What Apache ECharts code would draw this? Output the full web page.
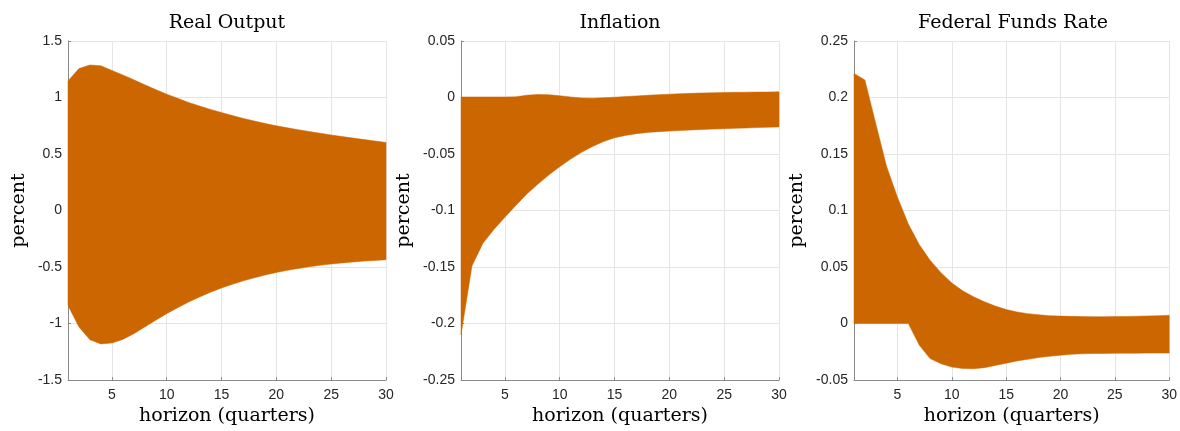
<!DOCTYPE html>
<html>
<head>
<meta charset="utf-8">
<script src="https://cdn.jsdelivr.net/npm/echarts@6/dist/echarts.min.js"></script>
<style>
  html, body { margin: 0; padding: 0; background: #fff; }
  #chart { width: 1180px; height: 431px; }
</style>
</head>
<body>
<div id="chart"></div>
<script>
// horizon in quarters
const horizon = [1,2,3,4,5,6,7,8,9,10,11,12,13,14,15,16,17,18,19,20,21,22,23,24,25,26,27,28,29,30];

// Real Output band
const outputUpper = [1.146,1.256,1.288,1.281,1.24,1.2,1.157,1.113,1.07,1.03,0.993,0.957,0.925,0.895,0.867,0.84,0.815,0.792,0.77,0.75,0.732,0.715,0.699,0.684,0.669,0.655,0.641,0.628,0.615,0.603];
const outputLower = [-0.839,-1.03,-1.143,-1.18,-1.172,-1.14,-1.09,-1.03,-0.97,-0.912,-0.86,-0.81,-0.765,-0.722,-0.685,-0.652,-0.622,-0.595,-0.57,-0.548,-0.529,-0.513,-0.498,-0.485,-0.473,-0.463,-0.455,-0.447,-0.441,-0.435];

// Inflation band
const inflUpper = [0.0005,0.0005,0.0005,0.0005,0.0005,0.0006,0.0021,0.0027,0.0025,0.0016,0.0005,-0.0004,-0.0006,-0.0002,0.0003,0.0008,0.0014,0.0019,0.0025,0.003,0.0034,0.0037,0.004,0.0042,0.0044,0.0046,0.0047,0.0048,0.0049,0.005];
const inflLower = [-0.21,-0.149,-0.129,-0.1167,-0.106,-0.0955,-0.0854,-0.0767,-0.0686,-0.0612,-0.0545,-0.0485,-0.0433,-0.039,-0.0357,-0.0335,-0.032,-0.0309,-0.0302,-0.0297,-0.0292,-0.0287,-0.0283,-0.0279,-0.0276,-0.0273,-0.027,-0.0266,-0.0263,-0.026];

// Federal Funds Rate band
const ffrUpper = [0.2213,0.2155,0.177,0.139,0.1117,0.088,0.07,0.056,0.045,0.036,0.029,0.0237,0.0193,0.0155,0.0125,0.0103,0.0088,0.0078,0.007,0.0066,0.0064,0.0062,0.0061,0.0061,0.0062,0.0063,0.0065,0.0067,0.007,0.0073];
const ffrLower = [0,0,0,0,0,0,-0.019,-0.031,-0.0355,-0.0385,-0.0398,-0.0399,-0.039,-0.037,-0.035,-0.033,-0.0316,-0.03,-0.029,-0.028,-0.0272,-0.0267,-0.0265,-0.0264,-0.0263,-0.0262,-0.0262,-0.0261,-0.0261,-0.0261];

const titles = ['Real Output', 'Inflation', 'Federal Funds Rate'];
const yRanges = [[-1.5, 1.5, 0.5], [-0.25, 0.05, 0.05], [-0.05, 0.25, 0.05]];
const bands = [[outputLower, outputUpper], [inflLower, inflUpper], [ffrLower, ffrUpper]];

const FILL = '#cc6600';
const TICK_FONT = '"Liberation Sans", Arial, sans-serif';
const SERIF = '"DejaVu Serif", serif';
const lefts = [68, 461, 854];
const plotW = 318;
const nameGaps = [39, 47, 47];

const grids = lefts.map((l) => ({ left: l, top: 41, width: plotW, height: 345 }));

const xAxes = lefts.map((l, i) => ({
  type: 'value',
  gridIndex: i,
  min: 1,
  max: 30,
  name: 'horizon (quarters)',
  nameLocation: 'middle',
  nameGap: 26,
  nameTextStyle: { fontFamily: SERIF, fontSize: 19, color: '#000' },
  axisLine: { show: true, onZero: false, lineStyle: { color: '#8a8a8a', width: 1 } },
  axisTick: { show: true, inside: true, length: 3, lineStyle: { color: '#8a8a8a' } },
  axisLabel: { showMinLabel: false, fontFamily: TICK_FONT, fontSize: 14, color: '#262626', margin: 8 },
  splitLine: { show: true, lineStyle: { color: '#e5e5e5', width: 1 } }
}));

const yAxes = yRanges.map((r, i) => ({
  type: 'value',
  gridIndex: i,
  min: r[0],
  max: r[1],
  interval: r[2],
  name: 'percent',
  nameLocation: 'middle',
  nameGap: nameGaps[i],
  nameTextStyle: { fontFamily: SERIF, fontSize: 19, color: '#000' },
  axisLine: { show: true, onZero: false, lineStyle: { color: '#8a8a8a', width: 1 } },
  axisTick: { show: true, inside: true, length: 3, lineStyle: { color: '#8a8a8a' } },
  axisLabel: {
    fontFamily: TICK_FONT, fontSize: 14, color: '#262626', margin: 6,
    formatter: (v) => String(+v.toFixed(4))
  },
  splitLine: { show: true, lineStyle: { color: '#e5e5e5', width: 1 } }
}));

// one polygon per panel: upper edge left->right, lower edge right->left
function bandRenderer(lower, upper) {
  return function (params, api) {
    if (params.dataIndexInside !== 0) return null;
    const pts = [];
    for (let k = 0; k < horizon.length; k++) pts.push(api.coord([horizon[k], upper[k]]));
    for (let k = horizon.length - 1; k >= 0; k--) pts.push(api.coord([horizon[k], lower[k]]));
    return {
      type: 'polygon',
      shape: { points: pts },
      style: { fill: FILL, stroke: FILL, lineWidth: 0.5 }
    };
  };
}

const series = bands.map((b, i) => ({
  type: 'custom',
  xAxisIndex: i,
  yAxisIndex: i,
  silent: true,
  renderItem: bandRenderer(b[0], b[1]),
  encode: { x: 0, y: [1, 2] },
  data: horizon.map((h, k) => [h, b[0][k], b[1][k]])
}));

const graphic = titles.map((t, i) => ({
  type: 'text',
  x: lefts[i] + plotW / 2,
  y: 23,
  style: {
    text: t,
    font: '19px ' + SERIF,
    fill: '#000',
    align: 'center',
    verticalAlign: 'middle',
    textAlign: 'center',
    textVerticalAlign: 'middle'
  }
}));

const chart = echarts.init(document.getElementById('chart'), null, { renderer: 'canvas' });
chart.setOption({
  animation: false,
  backgroundColor: '#fff',
  grid: grids,
  xAxis: xAxes,
  yAxis: yAxes,
  series: series,
  graphic: graphic
});
</script>
</body>
</html>
